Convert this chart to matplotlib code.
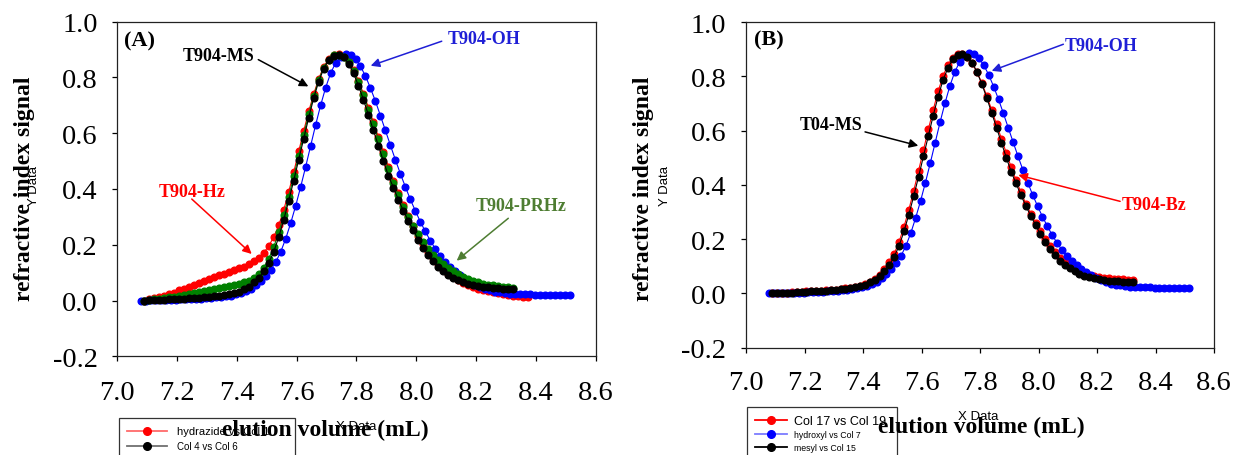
#!/usr/bin/env python3
import numpy as np
import matplotlib
matplotlib.use("Agg")
from matplotlib import pyplot as plt
from matplotlib.lines import Line2D

W, H = 1233, 456
STEP = 1 / 60  # sampling interval of the RI traces (mL)

# first elution volume of each trace (mL)
x0_ms = 7.09
x0_oh = 7.08
x0_hz = 7.09
x0_prhz = 7.09
x0_bz = 7.09

# T904-MS (mesyl)
ms = [0.000, 0.001, 0.002, 0.003, 0.003, 0.004, 0.005, 0.006, 0.007, 0.008,
      0.009, 0.010, 0.011, 0.013, 0.015, 0.017, 0.019, 0.022, 0.026, 0.032,
      0.040, 0.050, 0.065, 0.082, 0.105, 0.135, 0.175, 0.228, 0.290, 0.358,
      0.430, 0.505, 0.580, 0.655, 0.725, 0.785, 0.830, 0.862, 0.878, 0.882,
      0.872, 0.850, 0.815, 0.770, 0.720, 0.665, 0.610, 0.555, 0.500, 0.448,
      0.405, 0.362, 0.322, 0.286, 0.252, 0.218, 0.188, 0.162, 0.140, 0.121,
      0.105, 0.092, 0.081, 0.072, 0.065, 0.060, 0.056, 0.052, 0.049, 0.047,
      0.045, 0.044, 0.042, 0.041, 0.040]

# T904-OH (hydroxyl)
oh = [0.000, 0.000, 0.001, 0.001, 0.002, 0.002, 0.003, 0.003, 0.004, 0.005,
      0.005, 0.006, 0.007, 0.008, 0.009, 0.011, 0.013, 0.015, 0.018, 0.022,
      0.027, 0.034, 0.043, 0.055, 0.070, 0.088, 0.110, 0.138, 0.175, 0.222,
      0.278, 0.340, 0.408, 0.480, 0.555, 0.630, 0.700, 0.763, 0.815, 0.852,
      0.875, 0.884, 0.882, 0.866, 0.840, 0.805, 0.762, 0.715, 0.663, 0.610,
      0.557, 0.505, 0.455, 0.408, 0.363, 0.322, 0.283, 0.248, 0.215, 0.186,
      0.160, 0.137, 0.120, 0.105, 0.091, 0.078, 0.067, 0.057, 0.049, 0.042,
      0.036, 0.032, 0.029, 0.027, 0.025, 0.024, 0.023, 0.022, 0.022, 0.021,
      0.021, 0.021, 0.021, 0.021, 0.021, 0.021, 0.021]

# T904-Hz (hydrazide)
hz = [0.000, 0.004, 0.008, 0.012, 0.017, 0.022, 0.028, 0.036, 0.043, 0.050,
      0.057, 0.064, 0.071, 0.078, 0.084, 0.090, 0.096, 0.101, 0.108, 0.115,
      0.122, 0.130, 0.140, 0.153, 0.172, 0.196, 0.228, 0.270, 0.325, 0.390,
      0.460, 0.535, 0.608, 0.678, 0.740, 0.795, 0.838, 0.866, 0.880, 0.883,
      0.876, 0.858, 0.828, 0.788, 0.742, 0.692, 0.640, 0.586, 0.533, 0.480,
      0.430, 0.385, 0.342, 0.302, 0.266, 0.232, 0.202, 0.175, 0.151, 0.130,
      0.112, 0.096, 0.083, 0.072, 0.063, 0.055, 0.048, 0.042, 0.037, 0.033,
      0.029, 0.026, 0.023, 0.020, 0.018, 0.016, 0.014, 0.012]

# T904-PRHz
prhz = [0.000, 0.002, 0.004, 0.006, 0.008, 0.011, 0.014, 0.017, 0.020, 0.023,
        0.027, 0.030, 0.034, 0.037, 0.041, 0.044, 0.048, 0.052, 0.056, 0.060,
        0.065, 0.071, 0.080, 0.094, 0.118, 0.150, 0.192, 0.245, 0.305, 0.373,
        0.445, 0.520, 0.595, 0.668, 0.733, 0.790, 0.835, 0.864, 0.879, 0.882,
        0.874, 0.855, 0.824, 0.783, 0.736, 0.685, 0.632, 0.578, 0.524, 0.472,
        0.423, 0.378, 0.337, 0.300, 0.267, 0.237, 0.210, 0.186, 0.165, 0.146,
        0.130, 0.117, 0.105, 0.095, 0.086, 0.078, 0.071, 0.066, 0.061, 0.057,
        0.054, 0.051, 0.049, 0.047, 0.046]

# T904-Bz
bz = [0.000, 0.001, 0.002, 0.003, 0.004, 0.005, 0.006, 0.007, 0.008, 0.009,
      0.010, 0.011, 0.012, 0.014, 0.016, 0.018, 0.021, 0.024, 0.028, 0.034,
      0.042, 0.053, 0.068, 0.088, 0.114, 0.146, 0.190, 0.245, 0.308, 0.378,
      0.452, 0.528, 0.604, 0.676, 0.744, 0.800, 0.842, 0.869, 0.882, 0.882,
      0.870, 0.848, 0.815, 0.774, 0.727, 0.676, 0.623, 0.570, 0.517, 0.465,
      0.417, 0.372, 0.331, 0.294, 0.260, 0.228, 0.199, 0.173, 0.151, 0.132,
      0.116, 0.102, 0.091, 0.082, 0.075, 0.069, 0.064, 0.060, 0.057, 0.055,
      0.053, 0.052, 0.051, 0.050, 0.050]

xticks = [7.0, 7.2, 7.4, 7.6, 7.8, 8.0, 8.2, 8.4, 8.6]
yticks = [-0.2, 0.0, 0.2, 0.4, 0.6, 0.8, 1.0]

SERIF = "Liberation Serif"
SANS = "Liberation Sans"
GREEN_TXT = "#4e7d32"
BLUE_TXT = "#1f1fd6"

plt.rcParams["font.family"] = SERIF
plt.rcParams["axes.unicode_minus"] = False


def trace(x0, y):
    y = np.asarray(y)
    return x0 + np.arange(len(y)) * STEP, y


def draw(ax, x0, y, color):
    x, y = trace(x0, y)
    ax.plot(x, y, "-o", color=color, lw=0.8, ms=4.8, mec=color, mfc=color)


def style(ax, xpad):
    ax.set_xlim(7.0, 8.6)
    ax.set_ylim(-0.2, 1.0)
    ax.set_xticks(xticks)
    ax.set_yticks(yticks)
    ax.set_xticklabels([f"{v:.1f}" for v in xticks])
    ax.set_yticklabels([f"{v:.1f}" for v in yticks])
    ax.tick_params(axis="both", direction="out", length=3.6, width=0.9,
                   labelsize=20.5, top=False, right=False)
    ax.tick_params(axis="x", pad=xpad)
    ax.tick_params(axis="y", pad=10.5)
    for s in ax.spines.values():
        s.set_linewidth(0.9)
        s.set_color("#222222")


def label(ax, text, xy, color):
    ax.text(xy[0], xy[1], text, color=color, fontsize=13, fontweight="bold",
            ha="center", va="center")


def arrow(ax, tail, head, color):
    ax.annotate("", xy=head, xytext=tail,
                arrowprops=dict(arrowstyle="-|>", color=color, lw=1.1,
                                mutation_scale=13, shrinkA=0, shrinkB=0))


def ftext(x, y, s, **kw):
    fig.text(x / W, 1 - y / H, s, ha="center", va="center", **kw)


fig = plt.figure(figsize=(W / 100, H / 100), dpi=100)

# ---------------- panel A ----------------
axA = fig.add_axes([117.3 / W, 1 - 357.3 / H, (595.7 - 117.3) / W, (357.3 - 22.7) / H])
draw(axA, x0_hz, hz, "red")
draw(axA, x0_oh, oh, "blue")
draw(axA, x0_prhz, prhz, "green")
draw(axA, x0_ms, ms, "black")
style(axA, 13.5)

axA.text(7.021, 0.932, "(A)", fontsize=16, fontweight="bold", ha="left", va="center")
label(axA, "T904-MS", (7.339, 0.878), "black")
arrow(axA, (7.4715, 0.864), (7.639, 0.768), "black")
label(axA, "T904-OH", (8.227, 0.941), BLUE_TXT)
arrow(axA, (8.085, 0.930), (7.8475, 0.842), BLUE_TXT)
label(axA, "T904-Hz", (7.2515, 0.391), "red")
arrow(axA, (7.249, 0.364), (7.4495, 0.167), "red")
label(axA, "T904-PRHz", (8.3495, 0.340), GREEN_TXT)
arrow(axA, (8.3077, 0.295), (8.135, 0.143), GREEN_TXT)

hA = [Line2D([], [], color="#ff6a6a", lw=1.3, marker="o", ms=5.5, mfc="red", mec="red"),
      Line2D([], [], color="#707070", lw=1.3, marker="o", ms=5.5, mfc="black", mec="black")]
legA = axA.legend(hA, ["hydrazide vs Col 1", "Col 4 vs Col 6"],
                  loc="upper left", mode="expand", borderaxespad=0,
                  bbox_to_anchor=(119 / W, 0, (295 - 119) / W, 1 - 419.3 / H),
                  bbox_transform=fig.transFigure, prop={"family": SANS, "size": 7},
                  fancybox=False, framealpha=1, edgecolor="#333333",
                  borderpad=0.8, labelspacing=0.5, handlelength=4.1,
                  handletextpad=1.1)
legA.get_frame().set_linewidth(0.9)
legA.get_texts()[0].set_fontsize(8)

# ---------------- panel B ----------------
axB = fig.add_axes([746 / W, 1 - 348.6 / H, (1214 - 746) / W, (348.6 - 23) / H])
draw(axB, x0_bz, bz, "red")
draw(axB, x0_oh, oh, "blue")
draw(axB, x0_ms, ms, "black")
style(axB, 12.5)

axB.text(7.026, 0.934, "(B)", fontsize=16, fontweight="bold", ha="left", va="center")
label(axB, "T904-OH", (8.214, 0.913), BLUE_TXT)
arrow(axB, (8.085, 0.918), (7.840, 0.820), BLUE_TXT)
label(axB, "T04-MS", (7.290, 0.624), "black")
arrow(axB, (7.407, 0.595), (7.589, 0.544), "black")
label(axB, "T904-Bz", (8.396, 0.327), "red")
arrow(axB, (8.279, 0.339), (7.931, 0.436), "red")

hB = [Line2D([], [], color="red", lw=1.3, marker="o", ms=5.5, mfc="red", mec="red"),
      Line2D([], [], color="#7c7cff", lw=1.3, marker="o", ms=5.5, mfc="blue", mec="blue"),
      Line2D([], [], color="black", lw=1.3, marker="o", ms=5.5, mfc="black", mec="black")]
legB = axB.legend(hB, ["Col 17 vs Col 19", "hydroxyl vs Col 7", "mesyl vs Col 15"],
                  loc="upper left", mode="expand", borderaxespad=0,
                  bbox_to_anchor=(747.3 / W, 0, (896.7 - 747.3) / W, 1 - 408.3 / H),
                  bbox_transform=fig.transFigure, prop={"family": SANS, "size": 7},
                  fancybox=False, framealpha=1, edgecolor="#333333",
                  borderpad=0.75, labelspacing=0.38, handlelength=3.3,
                  handletextpad=0.8)
legB.get_frame().set_linewidth(0.9)
tB = legB.get_texts()
tB[0].set_fontsize(9)
tB[1].set_fontsize(6.3)
tB[2].set_fontsize(6.3)

# ---------------- axis titles (SigmaPlot style, drawn over legends) ----------------
for xc, yl, yd in ((24.5, 189, 33.6), (644, 189, 665)):
    ftext(xc, yl, "refractive index signal", rotation=90, fontsize=17,
          fontweight="bold", family=SERIF)
    ftext(yd, 186, "Y Data", rotation=90, fontsize=9.5, family=SANS)

ftext(325.8, 430, "elution volume (mL)", fontsize=17, fontweight="bold", family=SERIF)
ftext(355.8, 427, "X Data", fontsize=9.5, family=SANS)
ftext(981.7, 427.5, "elution volume (mL)", fontsize=17, fontweight="bold", family=SERIF)
ftext(978.3, 416.7, "X Data", fontsize=9.5, family=SANS)

fig.savefig("out.png", dpi=100)
